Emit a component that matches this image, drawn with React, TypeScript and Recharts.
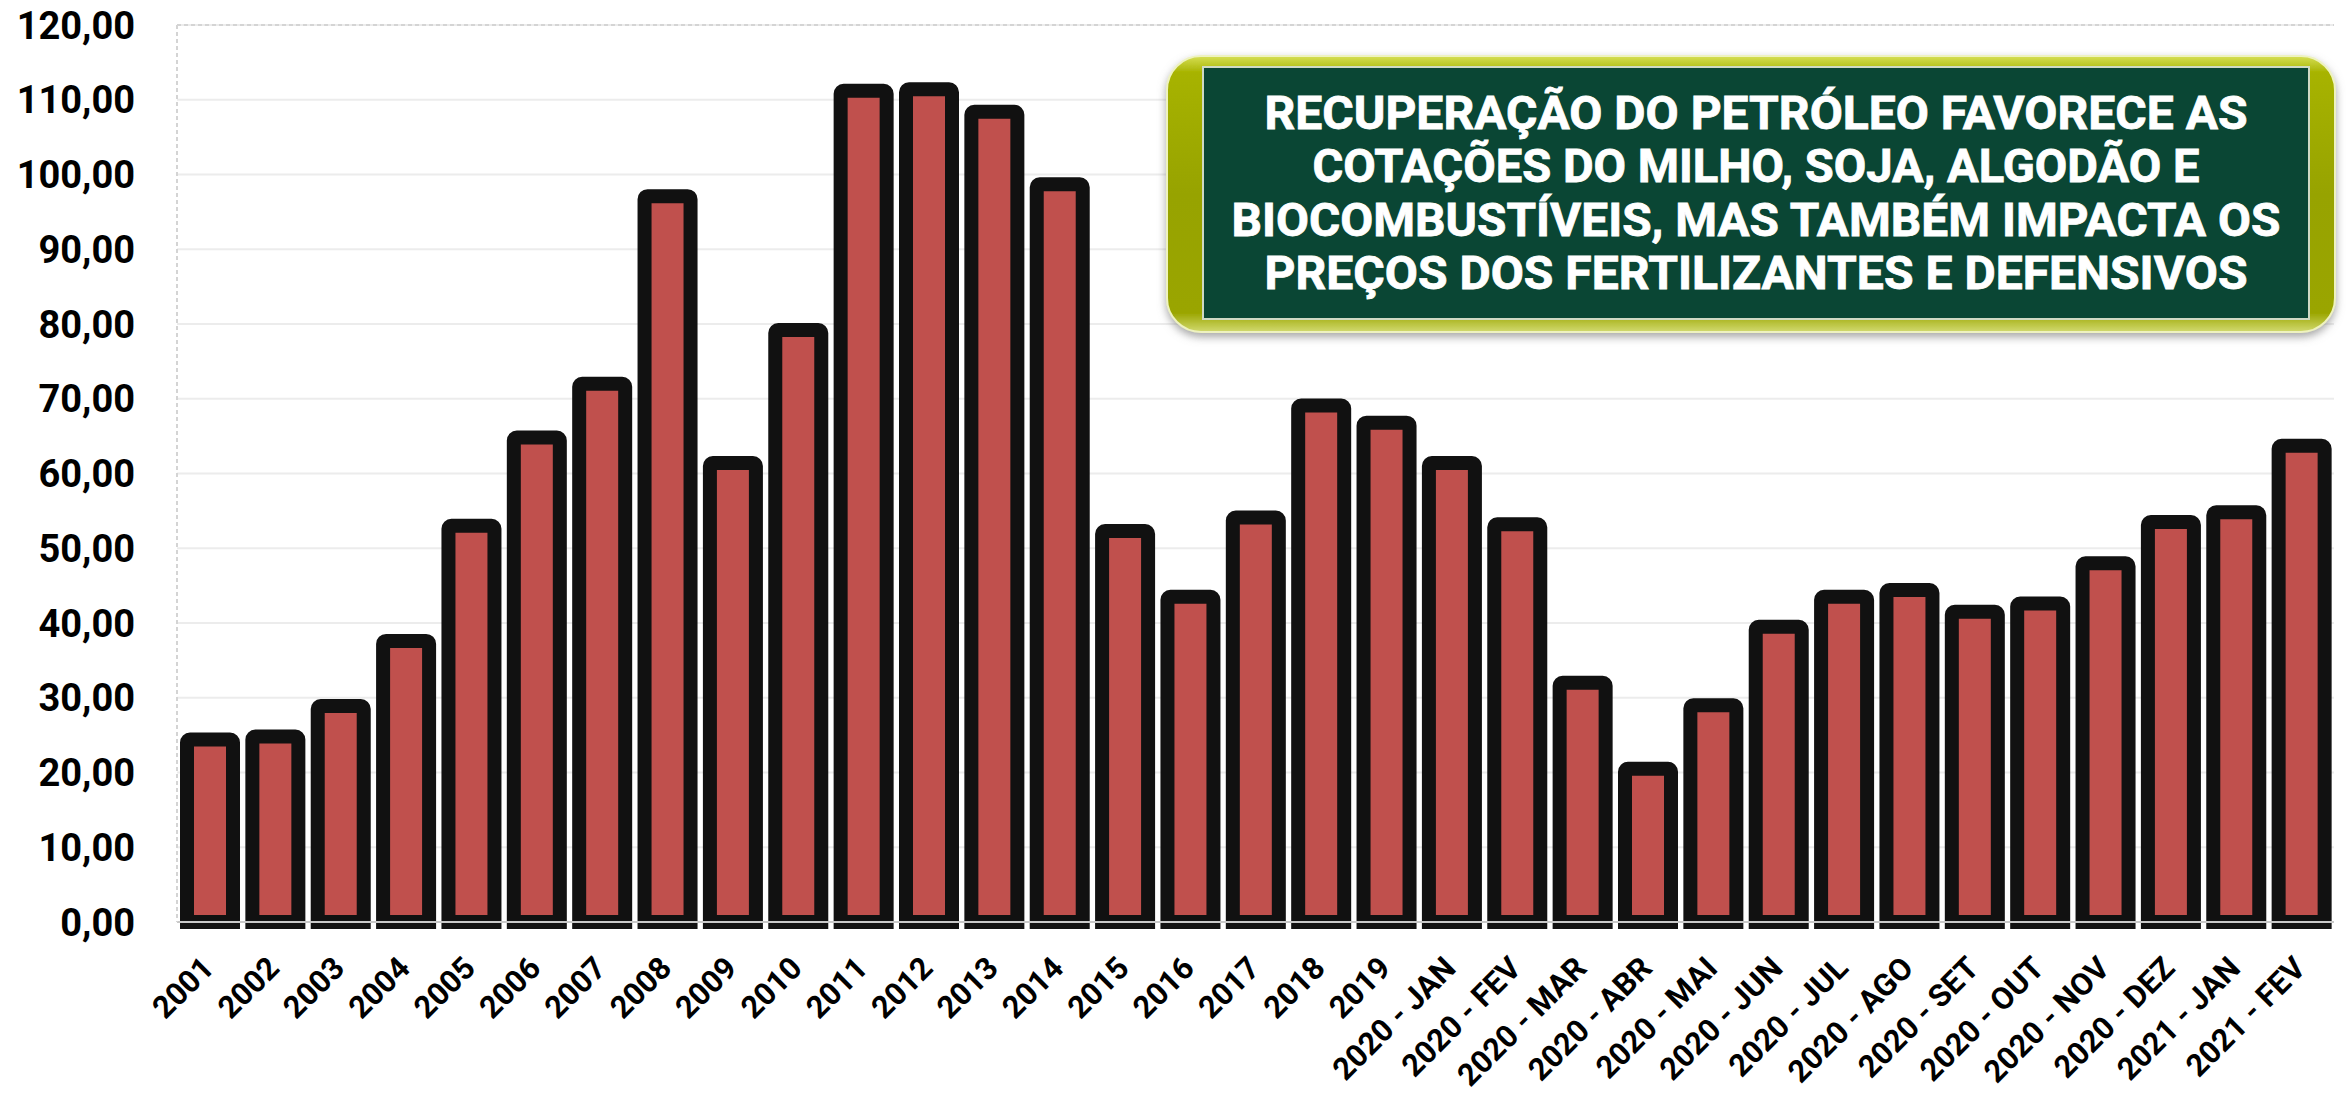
import { Bar, BarChart, CartesianGrid, ReferenceLine, XAxis, YAxis } from "recharts";

const categories = [
  "2001", "2002", "2003", "2004", "2005", "2006", "2007", "2008", "2009", "2010",
  "2011", "2012", "2013", "2014", "2015", "2016", "2017", "2018", "2019",
  "2020 - JAN", "2020 - FEV", "2020 - MAR", "2020 - ABR", "2020 - MAI", "2020 - JUN",
  "2020 - JUL", "2020 - AGO", "2020 - SET", "2020 - OUT", "2020 - NOV", "2020 - DEZ",
  "2021 - JAN", "2021 - FEV",
];

const prices = [
  24.4, 24.8, 28.9, 37.6, 53.0, 64.8, 72.0, 97.1, 61.4, 79.2,
  111.2, 111.4, 108.4, 98.7, 52.3, 43.5, 54.1, 69.1, 66.8,
  61.4, 53.2, 32.0, 20.5, 29.0, 39.5,
  43.5, 44.4, 41.5, 42.6, 48.0, 53.5,
  54.8, 63.7,
];

const yTicks = [0, 10, 20, 30, 40, 50, 60, 70, 80, 90, 100, 110, 120];

const titleLines = [
  "RECUPERAÇÃO DO PETRÓLEO FAVORECE AS",
  "COTAÇÕES DO MILHO, SOJA, ALGODÃO E",
  "BIOCOMBUSTÍVEIS, MAS TAMBÉM IMPACTA OS",
  "PREÇOS DOS FERTILIZANTES E DEFENSIVOS",
];
const titleWidths = [983, 887, 1049, 983];

const data = categories.map((label, i) => ({ label, value: prices[i] }));

const fmt = (v: number) => v.toFixed(2).replace(".", ",");

function XTick({ x = 0, y = 0, payload }: any) {
  return (
    <g transform={`translate(${x + 6},${y + 40})`}>
      <text
        x={0}
        y={0}
        transform="rotate(-45)"
        textAnchor="end"
        fontFamily="Roboto, sans-serif"
        fontWeight={700}
        fontSize={31}
        fill="#000"
      >
        {payload?.value}
      </text>
    </g>
  );
}

function YTick({ y = 0, payload }: any) {
  return (
    <text
      x={135}
      y={y}
      dy="0.36em"
      textAnchor="end"
      fontFamily="Roboto, sans-serif"
      fontWeight={700}
      fontSize={38}
      fill="#000"
    >
      {fmt(Number(payload?.value))}
    </text>
  );
}

function TitleBox() {
  return (
    <svg
      width={2346}
      height={1099}
      style={{ position: "absolute", left: 0, top: 0, pointerEvents: "none" }}
    >
      <defs>
        <linearGradient id="olive" x1="0" y1="0" x2="0" y2="1">
          <stop offset="0%" stopColor="#d6df55" />
          <stop offset="6%" stopColor="#a7b300" />
          <stop offset="50%" stopColor="#97a300" />
          <stop offset="93%" stopColor="#9aa500" />
          <stop offset="100%" stopColor="#d2da70" />
        </linearGradient>
        <filter id="shadow" x="-5%" y="-10%" width="110%" height="125%">
          <feDropShadow dx="0" dy="4" stdDeviation="4" floodColor="#808080" floodOpacity="0.7" />
        </filter>
      </defs>
      <rect
        x={1167}
        y={56}
        width={1168}
        height={276}
        rx={34}
        ry={34}
        fill="url(#olive)"
        stroke="#eef2c0"
        strokeWidth={2}
        filter="url(#shadow)"
      />
      <rect x={1203} y={67} width={1106} height={252} fill="#0a4634" stroke="#cfd9c4" strokeWidth={2} />
      {titleLines.map((line, i) => (
        <text
          key={line}
          x={1756}
          y={129 + i * 53.3}
          textAnchor="middle"
          textLength={titleWidths[i]}
          lengthAdjust="spacingAndGlyphs"
          fontFamily="Roboto, sans-serif"
          fontWeight={700}
          fontSize={47}
          fill="#ffffff"
          stroke="#ffffff"
          strokeWidth={0.8}
        >
          {line}
        </text>
      ))}
    </svg>
  );
}

export default function App() {
  return (
    <div style={{ position: "absolute", left: 0, top: 0, width: 2346, height: 1099, background: "#fff" }}>
      <BarChart
        width={2346}
        height={1099}
        data={data}
        margin={{ top: 25, right: 12, left: 0, bottom: 0 }}
      >
        <CartesianGrid vertical={false} stroke="#ececec" strokeWidth={2} />
        <XAxis
          dataKey="label"
          interval={0}
          height={177}
          tickLine={false}
          axisLine={{ stroke: "#c8c8c8", strokeWidth: 2 }}
          tick={<XTick />}
        />
        <YAxis
          domain={[0, 120]}
          ticks={yTicks}
          width={177}
          tickLine={false}
          axisLine={{ stroke: "#d4d4d4", strokeWidth: 2, strokeDasharray: "4 3" }}
          tick={<YTick />}
          interval={0}
        />
        <YAxis
          yAxisId="right"
          orientation="right"
          width={0}
          domain={[0, 120]}
          tick={false}
          tickLine={false}
          axisLine={{ stroke: "#d4d4d4", strokeWidth: 2, strokeDasharray: "4 3" }}
        />
        <ReferenceLine y={120} stroke="#d4d4d4" strokeWidth={2} strokeDasharray="4 3" />
        <Bar
          dataKey="value"
          fill="#c0504d"
          stroke="#111111"
          strokeWidth={14}
          barSize={46}
          radius={[3, 3, 0, 0]}
          isAnimationActive={false}
        />
      </BarChart>
      <TitleBox />
    </div>
  );
}
